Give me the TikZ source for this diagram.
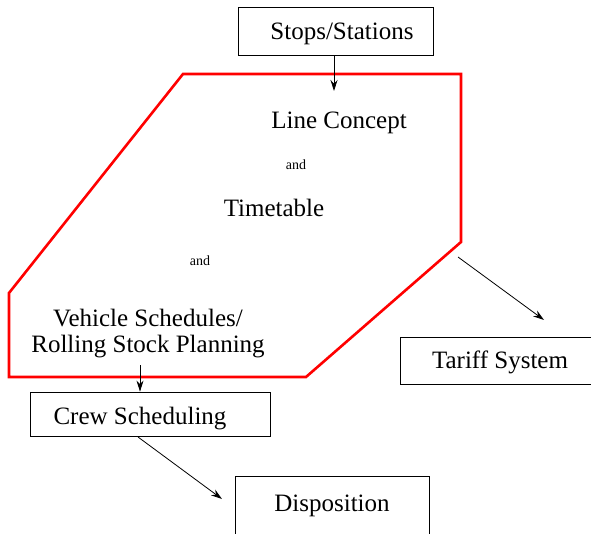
\documentclass[tikz,border=0pt]{standalone}
\usepackage{fontspec}
\setmainfont{Liberation Serif}
\usetikzlibrary{arrows.meta}
\begin{document}
\begin{tikzpicture}[x=1pt,y=-1pt,
  box/.style={draw,line width=0.8pt,inner sep=0pt,font=\fontsize{25}{28}\selectfont,text height=0.7em,text depth=0pt},
  lbl/.style={inner sep=0pt,font=\fontsize{25}{28}\selectfont,align=center},
  small/.style={inner sep=0pt,font=\fontsize{14}{16}\selectfont},
  arr/.style={line width=0.8pt,-{Stealth[length=11pt,width=7pt]}},
  zone/.style={draw=red,line width=2.6pt,line join=miter}]
\useasboundingbox (0,0) rectangle (591,534);
\node[box,minimum width=195pt,minimum height=48pt] (stops) at (335.5,31) {\hspace*{13pt}\raisebox{-5pt}{Stops/Stations}};
\draw[zone] (183,74) -- (461,74) -- (461,242) -- (306,377) -- (9,377) -- (9,293) -- cycle;
\node[lbl] (line) at (339,123) {Line Concept};
\node[small] (and1) at (296,165) {and};
\node[lbl] (tt) at (274,208) {Timetable};
\node[small] (and2) at (200,261) {and};
\node[lbl] (vs) at (148,334) {Vehicle Schedules/\\[-2pt]Rolling Stock Planning};
\node[box,minimum width=240pt,minimum height=44pt] (crew) at (150,414) {\raisebox{-7pt}{Crew Scheduling}\hspace*{20pt}};
\node[box,minimum width=200pt,minimum height=47pt] (tariff) at (500,360.5) {\raisebox{-4pt}{Tariff System}};
\node[box,minimum width=194pt,minimum height=60pt] (disp) at (332,506) {\raisebox{-2pt}{Disposition}};
\coordinate (c1) at (334,91);
\coordinate (t0) at (458,257);
\coordinate (t1) at (544,320);
\coordinate (v0) at (140,365);
\coordinate (d0) at (138,437);
\coordinate (d1) at (222,499);
\draw[arr] (stops.south -| c1) -- (c1);
\draw[arr] (t0) -- (t1);
\draw[arr] (v0) -- (crew.north -| v0);
\draw[arr] (d0) -- (d1);
\end{tikzpicture}
\end{document}
